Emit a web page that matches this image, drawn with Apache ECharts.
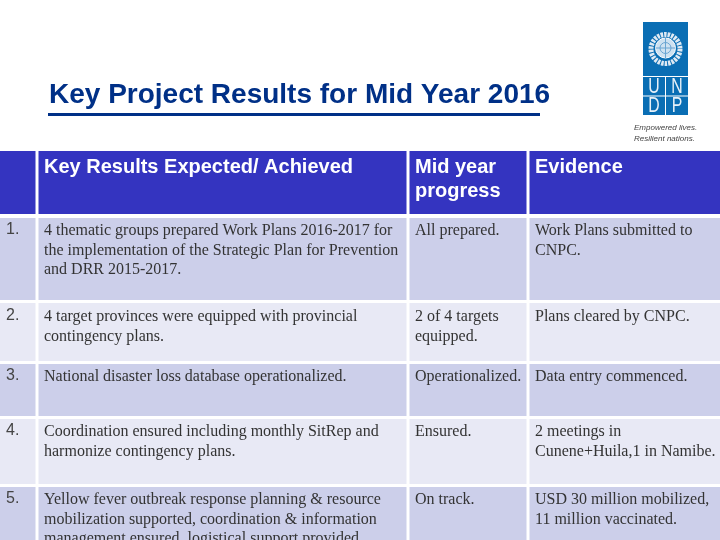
<!DOCTYPE html>
<html>
<head>
<meta charset="utf-8">
<style>html,body{margin:0;padding:0;background:#fff}#main{width:720px;height:540px}</style>
<script src="https://cdn.jsdelivr.net/npm/echarts@6/dist/echarts.min.js"></script>
</head>
<body>
<div id="main"></div>
<script>
var titleText = 'Key Project Results for Mid Year 2016';
var headers = [[''], ['Key Results Expected/ Achieved'], ['Mid year', 'progress'], ['Evidence']];
var rowNumbers = ['1.', '2.', '3.', '4.', '5.'];
var results = [
    ['4 thematic groups prepared Work Plans 2016-2017 for', 'the implementation of the Strategic Plan for Prevention', 'and DRR 2015-2017.'],
    ['4 target provinces were equipped with provincial', 'contingency plans.'],
    ['National disaster loss database operationalized.'],
    ['Coordination ensured including monthly SitRep and', 'harmonize contingency plans.'],
    ['Yellow fever outbreak response planning & resource', 'mobilization supported, coordination & information', 'management ensured, logistical support provided.']
];
var progress = [
    ['All prepared.'],
    ['2 of 4 targets', 'equipped.'],
    ['Operationalized.'],
    ['Ensured.'],
    ['On track.']
];
var evidence = [
    ['Work Plans submitted to', 'CNPC.'],
    ['Plans cleared by CNPC.'],
    ['Data entry commenced.'],
    ['2 meetings in', 'Cunene+Huila,1 in Namibe.'],
    ['USD 30 million mobilized,', '11 million vaccinated.']
];
var logoLetters = ['U', 'N', 'D', 'P'];
var tagline = ['Empowered lives.', 'Resilient nations.'];

// table layout
var colX = [0, 37, 408, 528, 721.5];
var textX = [6, 44, 415, 535];
var headerTop = 151, headerBottom = 214;
var rowTop = [218, 303, 364, 419, 487];
var rowBottom = [300, 361, 416, 484, 540];
var lineY = [231, 317, 377, 432, 500];
var lineH = 19.3;
var colors = { header: '#3434c0', odd: '#cccfea', even: '#e8e9f5', title: '#003087', logo: '#0a6eb4' };

var g = [];
function rect(x, y, w, h, fill) {
    g.push({ type: 'rect', shape: { x: x, y: y, width: w, height: h }, style: { fill: fill }, silent: true });
}
function label(x, y, str, font, fill, extra, props) {
    var style = { x: x, y: y, text: str, font: font, fill: fill, verticalAlign: 'middle' };
    for (var k in extra) style[k] = extra[k];
    var el = { type: 'text', style: style, silent: true };
    for (var p in props) el[p] = props[p];
    g.push(el);
}

// header row
for (var c = 0; c < 4; c++) {
    rect(colX[c] + (c ? 1.5 : 0), headerTop, colX[c + 1] - colX[c] - (c ? 3 : 1.5), headerBottom - headerTop, colors.header);
    headers[c].forEach(function (s, i) {
        label(textX[c], 167 + i * 24, s, 'bold 20px "Liberation Sans"', '#fff');
    });
}

// body rows
var bodySerif = '16px "Liberation Serif"';
rowNumbers.forEach(function (num, r) {
    var fill = r % 2 ? colors.even : colors.odd;
    for (var c = 0; c < 4; c++) {
        rect(colX[c] + (c ? 1.5 : 0), rowTop[r], colX[c + 1] - colX[c] - (c ? 3 : 1.5), rowBottom[r] - rowTop[r], fill);
    }
    label(textX[0], lineY[r] - 1, num, '16px "Liberation Sans"', '#444');
    [results, progress, evidence].forEach(function (col, c) {
        col[r].forEach(function (s, i) {
            label(textX[c + 1], lineY[r] + i * lineH, s, bodySerif, '#333');
        });
    });
});

// title rule
rect(48, 113, 492, 3, colors.title);

// logo
rect(643, 22, 45, 54, colors.logo);
rect(643, 77, 22, 18.5, colors.logo);
rect(666, 77, 22, 18.5, colors.logo);
rect(643, 96.5, 22, 18.5, colors.logo);
rect(666, 96.5, 22, 18.5, colors.logo);
logoLetters.forEach(function (s, i) {
    var x = i % 2 ? 677 : 654, y = i < 2 ? 86.5 : 106;
    label(x, y, s, '22px "Liberation Sans"', '#e8f1f8', { align: 'center' }, { scaleX: 0.72, originX: x, originY: y });
});
// emblem
var cx = 665.5, cy = 49;
g.push({ type: 'circle', shape: { cx: cx, cy: cy, r: 14.5 }, style: { fill: 'none', stroke: '#dfeaf4', lineWidth: 5, lineDash: [2.5, 1] }, silent: true });
g.push({ type: 'circle', shape: { cx: cx, cy: cy - 1, r: 10 }, style: { fill: '#cfe2f1', stroke: '#fff', lineWidth: 1 }, silent: true });
g.push({ type: 'circle', shape: { cx: cx, cy: cy - 1, r: 5.5 }, style: { fill: 'none', stroke: '#6aa5d2', lineWidth: 1 }, silent: true });
g.push({ type: 'line', shape: { x1: cx - 10, y1: cy - 1, x2: cx + 10, y2: cy - 1 }, style: { stroke: '#6aa5d2', lineWidth: 1 }, silent: true });
g.push({ type: 'line', shape: { x1: cx, y1: cy - 11, x2: cx, y2: cy + 9 }, style: { stroke: '#6aa5d2', lineWidth: 1 }, silent: true });
// tagline
tagline.forEach(function (s, i) {
    label(634, 128 + i * 11, s, 'italic 8px "Liberation Sans"', '#444');
});

var myChart = echarts.init(document.getElementById('main'), null, { renderer: 'canvas' });
var option = {
    backgroundColor: '#fff',
    animation: false,
    title: {
        text: titleText,
        left: 44,
        top: 76,
        textStyle: { fontFamily: 'Liberation Sans', fontWeight: 'bold', fontSize: 28, color: colors.title }
    },
    graphic: { elements: g }
};
myChart.setOption(option);
</script>
</body>
</html>
